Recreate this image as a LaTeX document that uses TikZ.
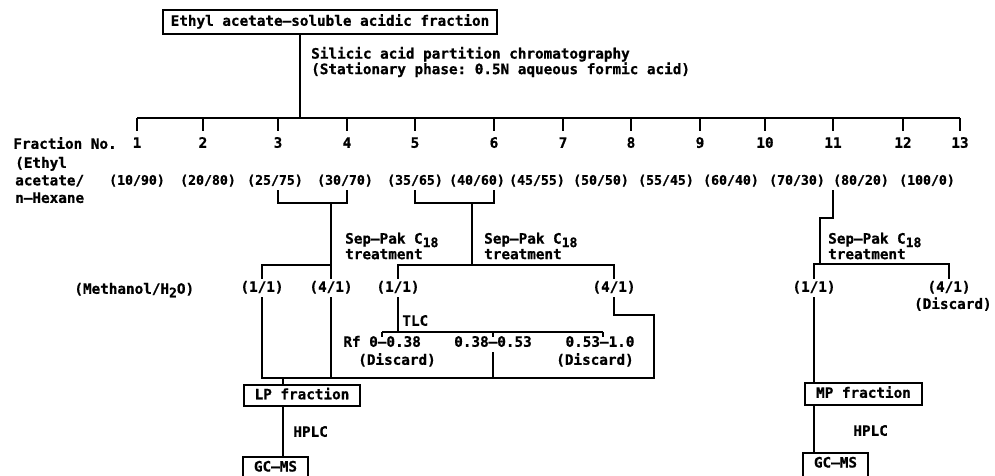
\documentclass[tikz,border=0pt]{standalone}
\usepackage{fontspec}
\setmonofont{DejaVu Sans Mono}[BoldFeatures={FakeBold=0.8}]
\usetikzlibrary{positioning}

\newcommand{\sub}[1]{\raisebox{-3.5pt}{\fontsize{13}{13}\selectfont #1}}

\begin{document}
\begin{tikzpicture}[x=1pt, y=-1pt, line width=1.8pt,
  font=\ttfamily\bfseries\fontsize{14.3}{15.5}\selectfont,
  box/.style={draw, inner xsep=11pt, inner ysep=3.5pt, text height=11pt, text depth=3.5pt},
  lbl/.style={inner sep=1.5pt, text height=10.5pt, text depth=3pt},
  ratio/.style={lbl, font=\ttfamily\bfseries\fontsize{13.2}{15}\selectfont},
  every node/.style={align=left}]
\useasboundingbox (0,0) rectangle (995,475);

% source and column
\node[box, inner xsep=8pt, inner ysep=5pt] (src) at (330,22) {Ethyl acetate–soluble acidic fraction};
\coordinate (bar) at (300,118);
\draw (src.south -| bar) -- (bar);
\node[anchor=west] (sil) at (307,62) {Silicic acid partition chromatography\\(Stationary phase: 0.5N aqueous formic acid)};

% fractions
\node[lbl, anchor=west] (fno) at (11,145) {Fraction No.};
\node[anchor=west, font=\ttfamily\bfseries\fontsize{14.3}{17.5}\selectfont] (eth) at (11,180) {(Ethyl\\acetate/\\n–Hexane};
\foreach \x [count=\i] in {137,203,278,347,415,494,563,631,700,765,833,903,960}
  \node[lbl] (f\i) at (\x,144) {\i};
\draw (f1.north |- bar) -- (f13.north |- bar);
\foreach \i in {1,...,13}
  \draw[shorten >=4pt] (f\i.north |- bar) -- (f\i.north);
\foreach \x/\a/\b [count=\i] in {137/10/90, 208/20/80, 275/25/75, 345/30/70, 415/35/65, 477/40/60,
    537/45/55, 601/50/50, 666/55/45, 731/60/40, 797/70/30, 861/80/20, 927/100/0}
  \node[ratio] (r\i) at (\x,181) {(\a/\b)};

% Sep-Pak steps
\node[lbl, anchor=west] (meoh) at (72,290) {(Methanol/H\sub{2}O)};
\node[lbl] (m1a) at (262,288) {(1/1)};
\node[lbl] (m1b) at (331,288) {(4/1)};
\node[lbl] (m2a) at (398,288) {(1/1)};
\node[lbl] (m2b) at (614,288) {(4/1)};
\node[lbl] (m3a) at (814,288) {(1/1)};
\node[lbl] (m3b) at (949,288) {(4/1)};
\node[lbl, anchor=north east] (d3) at (994,296) {(Discard)};

\coordinate (j34) at (331,203);
\coordinate (j56) at (472,203);
\coordinate (k11) at (820,218);
\coordinate (t1) at (331,265);
\coordinate (t2) at (472,265);
\coordinate (t3) at (820,264);
\draw (f3 |- r3.south) |- (j34) -| (f4 |- r4.south);
\draw (j34) -- (m1b.north);
\draw (m1a.north) |- (t1);
\draw (f5 |- r5.south) |- (j56) -| (f6 |- r6.south);
\draw (j56) -- (t2);
\draw (m2a.north) |- (t2) -| (m2b.north);
\draw (f11 |- r11.south) |- (k11) -- (t3);
\draw (m3a.north) |- (t3) -| (m3b.north);
\node[anchor=west] (sp1) at (341,246) {Sep–Pak C\sub{18}\\treatment};
\node[anchor=west] (sp2) at (480,246) {Sep–Pak C\sub{18}\\treatment};
\node[anchor=west] (sp3) at (824,246) {Sep–Pak C\sub{18}\\treatment};

% TLC
\coordinate (tl) at (398,332);
\draw (m2a.south) -- (tl);
\node[lbl, anchor=west] (tlc) at (400,322) {TLC};
\draw (382,332) -- (603,332);
\foreach \x in {382,493,603}
  \draw (\x,332) -- ++(0,5);
\node[lbl, anchor=west] (rf1) at (341,343) {Rf 0–0.38};
\node[lbl] (rf2) at (493,343) {0.38–0.53};
\node[lbl] (rf3) at (600,343) {0.53–1.0};
\node[lbl] (dc1) at (397,361) {(Discard)};
\node[lbl] (dc2) at (595,361) {(Discard)};

% collect
\coordinate (b0) at (262,378);
\coordinate (b1) at (654,378);
\coordinate (b2) at (654,315);
\coordinate (lpin) at (283,378);
\draw (m2b.south) |- (b2) -- (b1) -- (b0) -- (m1a.south);
\draw (m1b.south) -- (m1b.south |- b0);
\draw (rf2.south) -- (rf2.south |- b0);

% LP branch
\node[box] (lp) at (302,395.5) {LP fraction};
\node[box, text depth=6pt] (gc1) at (275.5,469) {GC–MS};
\draw (lpin) -- (lpin |- lp.north);
\draw (lp.south -| lpin) -- (gc1.north -| lpin);
\node[lbl, anchor=west] (hp1) at (291,433) {HPLC};

% MP branch
\node[box] (mp) at (863.5,394) {MP fraction};
\node[box, text depth=6pt] (gc2) at (835.5,465) {GC–MS};
\draw (m3a.south) -- (m3a.south |- mp.north);
\draw (mp.south -| m3a) -- (gc2.north -| m3a);
\node[lbl, anchor=west] (hp2) at (851,432) {HPLC};
\end{tikzpicture}
\end{document}
